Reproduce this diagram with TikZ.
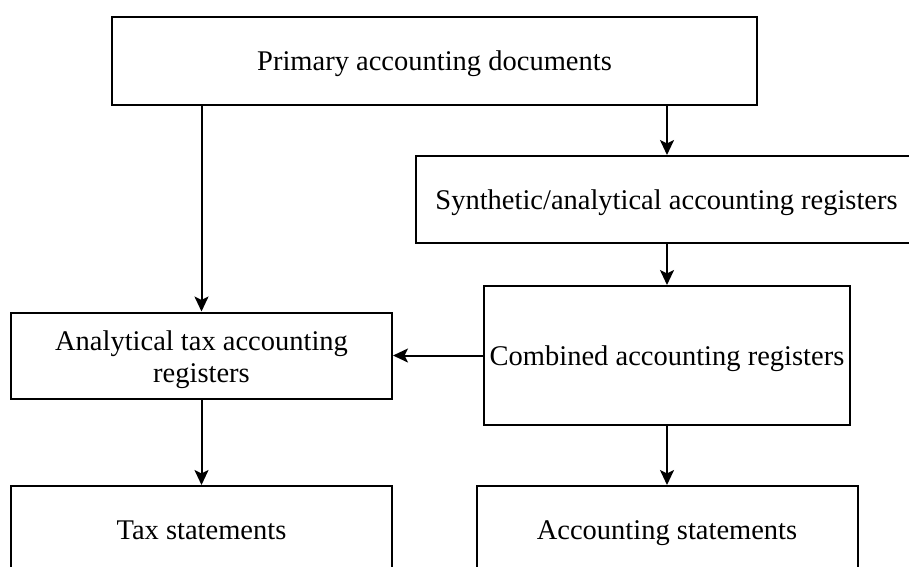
\documentclass[tikz,border=0pt]{standalone}
\usepackage{fontspec}
\setmainfont{Liberation Serif}
\usetikzlibrary{arrows.meta}
\begin{document}
\begin{tikzpicture}[x=1pt,y=-1pt,
  boxfont/.style={font=\fontsize{28.5}{32}\selectfont, align=center},
  box/.style={draw=black, line width=2pt, fill=white, inner sep=0pt,
    boxfont, text height=19pt, text depth=0pt},
  arr/.style={line width=2pt, -{Stealth[length=15pt,width=14pt,inset=3.5pt]}}]
\clip (0,0) rectangle (909,566);
\fill[white] (0,0) rectangle (909,566);
\node[box, minimum width=645pt, minimum height=88pt] (prim) at (434.5,61) {Primary accounting documents};
\node[box, minimum width=501pt, minimum height=87pt] (syn) at (666.5,199.5) {Synthetic/analytical accounting registers};
\node[box, minimum width=366pt, minimum height=139pt] (comb) at (667,355.5) {Combined accounting registers};
\node[box, minimum width=381pt, minimum height=86pt,
  label={[boxfont, inner sep=0pt, yshift=-4.5pt]center:{Analytical tax accounting\\registers}}] (anl) at (201.5,355.5) {};
\node[box, minimum width=381pt, minimum height=88pt] (tax) at (201.5,530) {Tax statements};
\node[box, minimum width=381pt, minimum height=88pt] (acc) at (667,530) {Accounting statements};
\draw[arr] (anl.north |- prim.south) -- (anl.north);
\draw[arr] (comb.north |- prim.south) -- (comb.north |- syn.north);
\draw[arr] (comb.north |- syn.south) -- (comb.north);
\draw[arr] (comb.west) -- (anl.east);
\draw[arr] (anl.south) -- (tax.north);
\draw[arr] (comb.south) -- (acc.north);
\end{tikzpicture}
\end{document}
